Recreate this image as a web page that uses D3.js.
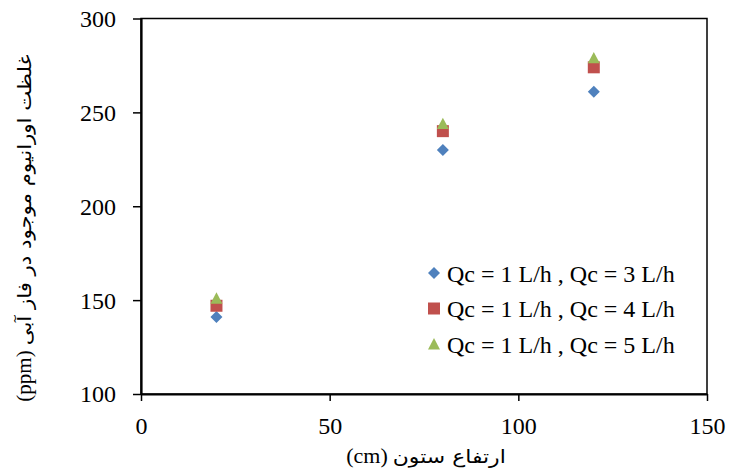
<!DOCTYPE html>
<html>
<head>
<meta charset="utf-8">
<script src="https://cdn.jsdelivr.net/npm/d3@7"></script>
<style>
  html, body { margin: 0; padding: 0; background: #fff; }
  svg { display: block; }
  .tick text { font-family: "Liberation Serif", "Times New Roman", serif; font-size: 24px; fill: #000; }
</style>
</head>
<body>
<svg id="chart"></svg>
<script>
// column height (cm) vs uranium concentration in aqueous phase (ppm)
const heights = [20, 80, 120];
const seriesNames = ["Qc = 1 L/h , Qc = 3 L/h", "Qc = 1 L/h , Qc = 4 L/h", "Qc = 1 L/h , Qc = 5 L/h"];
const q3 = [141, 230, 261];
const q4 = [147, 240, 274];
const q5 = [151, 244, 279];
const xTicks = [0, 50, 100, 150];
const yTicks = [100, 150, 200, 250, 300];
const xTitle = ["(cm)", "ارتفاع ستون"];
const yTitle = ["(ppm)", "غلظت اورانیوم موجود در فاز آبی"];

const width = 729, height = 476;
const margin = { top: 18.5, right: 22, bottom: 82, left: 141 };
const w = width - margin.left - margin.right;
const h = height - margin.top - margin.bottom;

// Excel-like marker shapes (size = bounding box width in px)
const diamond = {
  draw(ctx, s) {
    const r = s / 2;
    ctx.moveTo(0, -r); ctx.lineTo(r, 0); ctx.lineTo(0, r); ctx.lineTo(-r, 0); ctx.closePath();
  }
};
const square = {
  draw(ctx, s) {
    const r = s / 2;
    ctx.rect(-r, -r, s, s);
  }
};
const triangle = {
  draw(ctx, s) {
    const r = s / 2;
    ctx.moveTo(0, -r); ctx.lineTo(r, r * 0.9); ctx.lineTo(-r, r * 0.9); ctx.closePath();
  }
};

const series = [
  { name: seriesNames[0], values: q3, color: "#4F81BD", shape: diamond, size: 12 },
  { name: seriesNames[1], values: q4, color: "#C0504D", shape: square, size: 12 },
  { name: seriesNames[2], values: q5, color: "#9BBB59", shape: triangle, size: 12 }
];

const svg = d3.select("#chart").attr("width", width).attr("height", height);
svg.append("rect").attr("width", width).attr("height", height).attr("fill", "#fff");

const g = svg.append("g").attr("transform", `translate(${margin.left},${margin.top})`);

const x = d3.scaleLinear().domain([0, 150]).range([0, w]);
const y = d3.scaleLinear().domain([100, 300]).range([h, 0]);

// plot area border
g.append("rect")
  .attr("width", w).attr("height", h)
  .attr("fill", "none").attr("stroke", "#000").attr("stroke-width", 1.5);

const xAxis = g.append("g")
  .attr("transform", `translate(0,${h})`)
  .call(d3.axisBottom(x).tickValues(xTicks).tickSize(7).tickSizeOuter(0).tickPadding(10));
const yAxis = g.append("g")
  .call(d3.axisLeft(y).tickValues(yTicks).tickSize(8).tickSizeOuter(0).tickPadding(17));

[xAxis, yAxis].forEach(a => {
  a.attr("font-family", null).attr("font-size", null);
  a.select(".domain").attr("stroke", "#000").attr("stroke-width", 2.2);
  a.selectAll(".tick line").attr("stroke", "#000").attr("stroke-width", 1.5);
});
xAxis.selectAll(".tick text").attr("dy", "0.95em");
yAxis.selectAll(".tick text").attr("dy", "0.33em");

// points
series.forEach(s => {
  g.selectAll(null)
    .data(s.values)
    .enter()
    .append("path")
    .attr("d", d3.symbol().type(s.shape).size(s.size))
    .attr("transform", (d, i) => `translate(${x(heights[i])},${y(d)})`)
    .attr("fill", s.color);
});

// legend
const legend = svg.append("g").attr("transform", "translate(434,273)");
series.forEach((s, i) => {
  const row = legend.append("g").attr("transform", `translate(0,${i * 35.5})`);
  row.append("path")
    .attr("d", d3.symbol().type(s.shape).size(s.size))
    .attr("fill", s.color);
  row.append("text")
    .attr("x", 13)
    .attr("dy", "0.36em")
    .attr("font-family", "Liberation Serif, Times New Roman, serif")
    .attr("font-size", 24)
    .text(s.name);
});

// mixed-script axis title: latin part on the left, arabic on the right
function mixedTitle(parent, parts, latinSize, arSize, arWidth) {
  const latin = parent.append("text")
    .attr("font-family", "Liberation Serif, Times New Roman, serif")
    .attr("font-size", latinSize)
    .text(parts[0]);
  const ar = parent.append("text")
    .attr("font-family", "DejaVu Sans, sans-serif")
    .attr("font-size", arSize)
    .attr("textLength", arWidth)
    .attr("lengthAdjust", "spacingAndGlyphs")
    .text(parts[1]);
  const gap = 5;
  const lw = latin.node().getComputedTextLength();
  const start = -(lw + gap + arWidth) / 2;
  latin.attr("x", start);
  ar.attr("x", start + lw + gap);
}

mixedTitle(svg.append("g").attr("transform", "translate(426,463)"), xTitle, 22, 18.5, 113);
mixedTitle(svg.append("g").attr("transform", "translate(31,228) rotate(-90)"), yTitle, 21, 18.5, 291);
</script>
</body>
</html>
